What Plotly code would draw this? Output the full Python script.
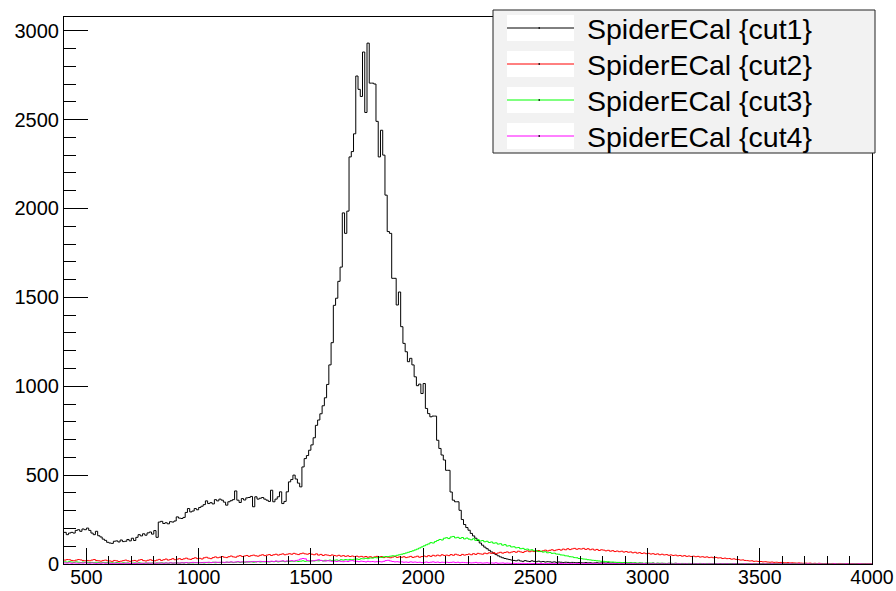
import numpy as np
import plotly.graph_objects as go

# Histogram binning: 10-unit bins from 400 to 4000
BIN_LO, BIN_HI, BIN_W = 400, 4000, 10
bin_edges = list(range(BIN_LO, BIN_HI, BIN_W))

# SpiderECal {cut1}
cut1 = [
    178, 165, 174, 178, 174, 189, 193, 184, 197, 193,   # 400
    202, 189, 174, 165, 184, 159, 152, 140, 133, 122,   # 500
    118, 116, 128, 130, 124, 135, 126, 128, 138, 130,   # 600
    145, 132, 150, 165, 158, 170, 162, 175, 180, 168,   # 700
    188, 150, 236, 240, 228, 232, 226, 238, 236, 242,   # 800
    265, 258, 256, 262, 290, 312, 293, 298, 312, 305,   # 900
    318, 325, 334, 355, 340, 345, 338, 362, 355, 365,   # 1000
    359, 348, 331, 350, 356, 362, 411, 359, 346, 368,   # 1100
    360, 372, 374, 380, 322, 378, 365, 370, 374, 365,   # 1200
    359, 352, 415, 350, 365, 378, 406, 340, 352, 406,   # 1300
    462, 475, 500, 478, 455, 434, 546, 593, 610, 640,   # 1400
    670, 710, 780, 810, 845, 890, 935, 1010, 1120, 1245,  # 1500
    1455, 1495, 1590, 1670, 1975, 1860, 1985, 2290, 2320, 2420,  # 1600
    2745, 2670, 2630, 2880, 2540, 2930, 2705, 2705, 2700, 2490,  # 1700
    2290, 2440, 2300, 2075, 1870, 1860, 1607, 1607, 1457, 1530,  # 1800
    1335, 1241, 1194, 1138, 1157, 1120, 1053, 1003, 1012, 959,   # 1900
    1015, 875, 846, 828, 832, 832, 696, 650, 613, 585,   # 2000
    527, 527, 405, 359, 350, 350, 302, 250, 222, 205,   # 2100
    190, 172, 158, 145, 132, 118, 106, 95, 86, 77,      # 2200
    68, 60, 53, 46, 40, 35, 31, 28, 25, 22,             # 2300
    20, 18, 22, 17, 15, 19, 16, 14, 18, 15,             # 2400
    13, 16, 12, 14, 11, 13, 12, 10, 12, 9,              # 2500
    11, 10, 8, 10, 9, 7, 9, 8, 7, 8,                    # 2600
    7, 6, 8, 6, 7, 5, 6, 7, 5, 6,                       # 2700
    6, 5, 7, 5, 6, 4, 5, 6, 4, 5,                       # 2800
    5, 4, 6, 4, 5, 3, 5, 4, 3, 4,                       # 2900
    4, 3, 5, 3, 4, 3, 4, 2, 3, 4,                       # 3000
    3, 2, 4, 3, 2, 3, 3, 2, 3, 2,                       # 3100
    3, 2, 2, 3, 2, 1, 2, 3, 2, 2,                       # 3200
    2, 1, 2, 2, 1, 2, 1, 2, 1, 2,                       # 3300
    1, 2, 1, 1, 2, 1, 1, 2, 1, 1,                       # 3400
    1, 1, 0, 1, 1, 0, 1, 1, 0, 1,                       # 3500
    1, 0, 1, 0, 1, 1, 0, 1, 0, 0,                       # 3600
    1, 0, 0, 1, 0, 1, 0, 0, 1, 0,                       # 3700
    0, 1, 0, 0, 1, 0, 0, 0, 1, 0,                       # 3800
    0, 0, 1, 0, 0, 0, 1, 0, 0, 0,                       # 3900
]

# SpiderECal {cut2}
cut2 = [
    22, 25, 24, 20, 18, 22, 25, 23, 20, 18,
    20, 18, 22, 25, 20, 18, 16, 20, 22, 18,
    17, 15, 20, 18, 14, 16, 19, 22, 18, 15,
    18, 20, 16, 22, 25, 19, 17, 21, 24, 20,
    18, 22, 26, 20, 24, 28, 22, 25, 30, 24,
    27, 30, 25, 29, 33, 28, 26, 31, 35, 30,
    32, 28, 35, 38, 33, 30, 36, 40, 35, 38,
    42, 38, 36, 41, 45, 40, 38, 44, 47, 42,
    45, 48, 43, 47, 50, 46, 44, 49, 52, 47,
    50, 53, 48, 52, 55, 50, 54, 57, 52, 55,
    58, 55, 60, 56, 53, 58, 61, 57, 55, 59,
    55, 52, 57, 50, 54, 48, 52, 50, 47, 51,
    48, 45, 49, 44, 47, 43, 46, 42, 45, 41,
    44, 40, 43, 39, 42, 38, 41, 37, 40, 43,
    39, 42, 36, 40, 38, 35, 39, 42, 37, 40,
    38, 41, 36, 39, 43, 37, 40, 44, 38, 42,
    45, 41, 47, 43, 49, 45, 50, 46, 52, 48,
    50, 47, 53, 49, 55, 51, 48, 54, 50, 53,
    56, 52, 58, 54, 60, 57, 55, 61, 58, 63,
    60, 64, 58, 62, 66, 61, 65, 68, 63, 67,
    70, 66, 72, 68, 65, 71, 74, 69, 73, 70,
    72, 76, 70, 74, 78, 73, 77, 80, 75, 79,
    82, 78, 84, 80, 86, 81, 85, 88, 83, 86,
    84, 88, 82, 86, 80, 84, 78, 82, 76, 80,
    78, 74, 77, 72, 75, 70, 73, 69, 72, 67,
    70, 66, 68, 63, 66, 61, 64, 59, 62, 58,
    60, 56, 58, 54, 57, 52, 55, 51, 53, 49,
    51, 48, 50, 46, 48, 44, 47, 43, 45, 42,
    44, 41, 43, 39, 41, 38, 40, 36, 38, 35,
    37, 34, 35, 31, 33, 30, 31, 27, 29, 26,
    25, 22, 23, 20, 19, 17, 18, 15, 16, 14,
    14, 12, 13, 11, 10, 11, 9, 10, 8, 9,
    8, 7, 8, 6, 7, 6, 5, 6, 5, 4,
    5, 4, 5, 3, 4, 3, 4, 3, 2, 3,
    3, 2, 3, 2, 2, 3, 2, 1, 2, 2,
    1, 2, 1, 2, 1, 1, 2, 1, 1, 1,
]

# SpiderECal {cut3}
cut3 = [
    12, 10, 13, 11, 9, 12, 10, 8, 11, 9,
    10, 8, 9, 7, 10, 8, 6, 9, 7, 8,
    6, 7, 5, 8, 6, 4, 7, 5, 6, 4,
    5, 6, 4, 7, 5, 3, 6, 4, 5, 6,
    4, 6, 5, 7, 5, 6, 4, 7, 5, 6,
    6, 5, 7, 6, 8, 5, 7, 6, 8, 7,
    7, 8, 6, 9, 7, 8, 10, 7, 9, 8,
    9, 8, 10, 9, 11, 8, 10, 12, 9, 11,
    10, 12, 11, 13, 10, 12, 14, 11, 13, 12,
    13, 12, 14, 13, 15, 12, 14, 16, 13, 15,
    14, 16, 15, 17, 14, 16, 18, 15, 17, 16,
    18, 17, 19, 18, 20, 17, 21, 19, 22, 20,
    21, 23, 20, 24, 22, 25, 23, 26, 24, 27,
    28, 26, 30, 29, 32, 30, 34, 33, 36, 35,
    38, 37, 40, 42, 41, 44, 46, 45, 49, 52,
    55, 58, 62, 66, 70, 74, 79, 84, 90, 96,
    102, 108, 113, 120, 118, 126, 132, 138, 135, 145,
    148, 143, 152, 155, 147, 150, 144, 149, 141, 146,
    140, 136, 142, 133, 137, 129, 132, 125, 128, 121,
    124, 117, 119, 112, 114, 106, 109, 101, 103, 96,
    97, 91, 93, 86, 88, 82, 84, 78, 80, 74,
    75, 70, 72, 67, 69, 63, 65, 60, 61, 56,
    55, 51, 50, 46, 45, 41, 40, 36, 35, 31,
    30, 28, 27, 24, 23, 21, 20, 18, 17, 15,
    15, 13, 13, 11, 11, 10, 9, 9, 8, 8,
    7, 7, 6, 6, 6, 5, 5, 5, 4, 5,
    4, 5, 4, 3, 4, 4, 3, 4, 3, 3,
    4, 3, 3, 2, 3, 3, 2, 3, 3, 2,
    3, 2, 2, 3, 2, 2, 3, 2, 2, 2,
    2, 2, 1, 2, 2, 1, 2, 2, 1, 2,
    1, 2, 1, 1, 2, 1, 1, 2, 1, 1,
    1, 1, 2, 1, 1, 1, 0, 1, 1, 1,
    1, 0, 1, 1, 0, 1, 1, 0, 1, 0,
    1, 0, 0, 1, 0, 1, 0, 0, 1, 0,
    0, 1, 0, 0, 1, 0, 0, 1, 0, 0,
    0, 0, 1, 0, 0, 0, 1, 0, 0, 0,
]

# SpiderECal {cut4}
cut4 = [
    6, 5, 7, 4, 6, 5, 4, 6, 5, 7,
    5, 4, 6, 5, 3, 5, 4, 6, 4, 5,
    4, 3, 5, 4, 2, 4, 3, 5, 4, 3,
    4, 3, 5, 4, 3, 5, 4, 6, 4, 5,
    5, 4, 6, 5, 4, 6, 5, 7, 5, 6,
    6, 5, 7, 6, 8, 6, 7, 9, 7, 8,
    8, 7, 9, 8, 10, 8, 9, 11, 9, 10,
    10, 9, 11, 10, 12, 10, 11, 13, 11, 12,
    12, 11, 13, 12, 14, 12, 13, 15, 13, 14,
    14, 13, 16, 14, 17, 15, 16, 18, 15, 17,
    17, 19, 16, 20, 22, 28, 31, 29, 20, 18,
    17, 19, 21, 24, 20, 18, 16, 19, 17, 15,
    16, 14, 17, 15, 13, 16, 14, 18, 19, 16,
    15, 13, 16, 14, 12, 15, 13, 14, 12, 13,
    14, 12, 15, 19, 21, 17, 14, 12, 13, 11,
    12, 10, 11, 9, 12, 10, 11, 9, 10, 8,
    9, 11, 8, 10, 12, 9, 11, 8, 10, 9,
    10, 8, 9, 11, 8, 10, 7, 9, 8, 7,
    8, 6, 7, 9, 6, 7, 5, 6, 7, 5,
    6, 5, 7, 4, 5, 6, 4, 5, 4, 3,
    4, 3, 4, 3, 4, 2, 3, 4, 2, 3,
    3, 2, 3, 2, 2, 3, 2, 2, 3, 2,
    2, 3, 2, 2, 1, 2, 2, 1, 2, 2,
    1, 2, 2, 1, 2, 1, 2, 1, 1, 2,
    1, 1, 2, 1, 1, 2, 1, 1, 1, 2,
    1, 1, 1, 2, 1, 1, 1, 1, 2, 1,
    1, 1, 1, 1, 1, 0, 1, 1, 1, 1,
    1, 0, 1, 1, 1, 0, 1, 1, 0, 1,
    1, 0, 1, 0, 1, 1, 0, 1, 0, 1,
    0, 1, 0, 1, 0, 1, 0, 0, 1, 0,
    1, 0, 0, 1, 0, 0, 1, 0, 0, 1,
    0, 0, 1, 0, 0, 1, 0, 0, 0, 1,
    0, 0, 0, 1, 0, 0, 0, 1, 0, 0,
    0, 1, 0, 0, 0, 0, 1, 0, 0, 0,
    0, 0, 0, 1, 0, 0, 0, 0, 1, 0,
    0, 0, 0, 0, 1, 0, 0, 0, 0, 0,
]

series_names = ["SpiderECal {cut1}", "SpiderECal {cut2}",
                "SpiderECal {cut3}", "SpiderECal {cut4}"]
series_values = [cut1, cut2, cut3, cut4]
series_colors = ["#000000", "#ff0000", "#00ff00", "#ff00ff"]

x_ticks = [500, 1000, 1500, 2000, 2500, 3000, 3500, 4000]
y_ticks = [0, 500, 1000, 1500, 2000, 2500, 3000]

FONT = "Liberation Sans, Arial, Helvetica, sans-serif"
W, H = 896, 591
ML, MR, MT, MB = 64, 24, 17, 27

fig = go.Figure()

# step outlines: each bin drawn as a flat segment from its low edge to the next
for name, vals, col in zip(series_names, series_values, series_colors):
    xs = bin_edges + [BIN_HI]
    ys = list(vals) + [vals[-1]]
    fig.add_trace(go.Scatter(
        x=xs, y=ys, mode="lines", name=name,
        line=dict(color=col, width=1, shape="hv"),
        showlegend=False, hoverinfo="skip",
    ))

axis_common = dict(
    showgrid=False, zeroline=False, automargin=False,
    showline=True, linecolor="black", linewidth=1, mirror=True,
    ticks="inside", tickcolor="black", tickwidth=1,
)

fig.update_xaxes(
    range=[BIN_LO, BIN_HI], tickvals=x_ticks, ticktext=[str(v) for v in x_ticks],
    ticklen=16, ticklabelstandoff=-4,
    tickfont=dict(family=FONT, size=19.5, color="black"),
    minor=dict(dtick=100, tick0=0, ticks="inside", ticklen=8, tickcolor="black", tickwidth=1),
    **axis_common,
)
fig.update_yaxes(
    range=[0, 3077], tickvals=y_ticks, ticktext=[str(v) for v in y_ticks],
    ticklen=24,
    tickfont=dict(family=FONT, size=20, color="black"),
    minor=dict(dtick=100, tick0=0, ticks="inside", ticklen=12, tickcolor="black", tickwidth=1),
    **axis_common,
)


# legend box drawn in pixel units converted to paper coordinates
def pxx(p):
    return (p - ML) / (W - ML - MR)


def pxy(p):
    return (H - MB - p) / (H - MT - MB)


shapes = [dict(type="rect", xref="paper", yref="paper", layer="above",
               x0=pxx(493), x1=pxx(875), y0=pxy(153), y1=pxy(10),
               line=dict(color="#222222", width=1), fillcolor="#f2f2f2")]
annotations = []
row_centers = [28, 64, 100, 136]
for name, col, yc in zip(series_names, series_colors, row_centers):
    shapes.append(dict(type="rect", xref="paper", yref="paper", layer="above",
                       x0=pxx(507), x1=pxx(574), y0=pxy(yc + 13), y1=pxy(yc - 13),
                       line=dict(width=0), fillcolor="white"))
    shapes.append(dict(type="line", xref="paper", yref="paper", layer="above",
                       x0=pxx(507), x1=pxx(574), y0=pxy(yc), y1=pxy(yc),
                       line=dict(color=col, width=1)))
    shapes.append(dict(type="rect", xref="paper", yref="paper", layer="above",
                       x0=pxx(538.5), x1=pxx(540), y0=pxy(yc + 0.75), y1=pxy(yc - 0.75),
                       line=dict(width=0), fillcolor="black"))
    annotations.append(dict(xref="paper", yref="paper", x=pxx(585), y=pxy(yc + 1),
                            xanchor="left", yanchor="middle", showarrow=False,
                            text=name, font=dict(family=FONT, size=28.5, color="black")))

fig.update_layout(
    width=W, height=H,
    margin=dict(l=ML, r=MR, t=MT, b=MB, pad=0),
    paper_bgcolor="white", plot_bgcolor="white",
    showlegend=False,
    shapes=shapes, annotations=annotations,
)

fig.write_html("out.html")
